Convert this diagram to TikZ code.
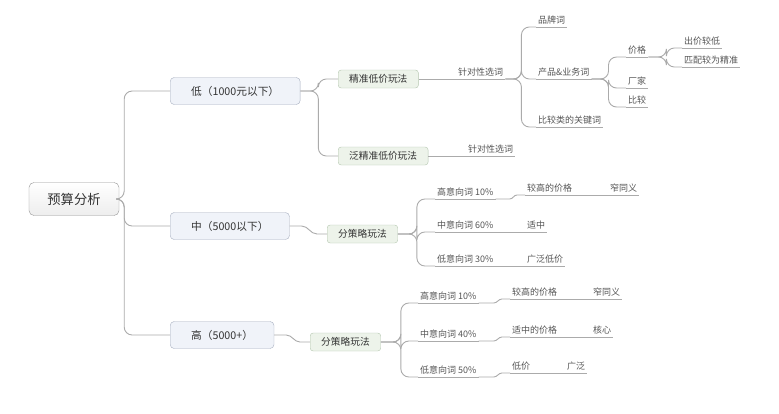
\documentclass[tikz,border=0pt]{standalone}
\usepackage{fontspec}
\setmainfont{Noto Sans CJK SC}
\definecolor{linkgray}{HTML}{ABABAB}
\definecolor{rootedge}{HTML}{969696}
\definecolor{branchfill}{HTML}{F0F3F9}
\definecolor{branchedge}{HTML}{A7AFC0}
\definecolor{playfill}{HTML}{EDF3EA}
\definecolor{playedge}{HTML}{B5C7B0}
\definecolor{boxtext}{HTML}{333333}
\definecolor{leaftext}{HTML}{555555}

\begin{document}
\begin{tikzpicture}[
			x=1pt,
			y=-1pt,
			rootbox/.style={draw=rootedge, rounded corners=5pt, top color=white, bottom color=black!7, text=boxtext, font=\fontsize{13.3}{15}\selectfont, minimum width=90pt, minimum height=33pt, inner sep=0pt},
			branchbox/.style={draw=branchedge, fill=branchfill, rounded corners=4pt, text=boxtext, font=\fontsize{10.7}{12}\selectfont, anchor=west, minimum height=27pt, inner xsep=21pt, inner ysep=0pt},
			playbox/.style={draw=playedge, fill=playfill, rounded corners=3pt, text=boxtext, font=\fontsize{9.7}{11}\selectfont, anchor=west, minimum height=18pt, inner xsep=11pt, inner ysep=0pt},
			leaf/.style={text=leaftext, font=\fontsize{9}{10}\selectfont, anchor=south west, inner xsep=2pt, inner ysep=2pt, text height=7.5pt, text depth=1.5pt},
			link/.style={draw=linkgray, line width=0.9pt, rounded corners=8pt},
			wave/.style={draw=linkgray, line width=0.9pt, sharp corners}
		]
		\fill[white] (0,0) rectangle (779,413);

		\node[rootbox] (budget) at (74,199) {预算分析};

		\node[branchbox] (low) at (170,91) {低（1000元以下）};
		\node[branchbox] (mid) at (170,226) {中（5000以下）};
		\node[branchbox] (high) at (170,335) {高（5000+）};

		\node[playbox] (precise) at (338,79) {精准低价玩法};
		\node[playbox] (broad) at (338,156) {泛精准低价玩法};
		\node[playbox] (midplay) at (327,234) {分策略玩法};
		\node[playbox] (highplay) at (310,342) {分策略玩法};

		\node[leaf] (sela) at (456,79) {针对性选词};
		\node[leaf] (brand) at (536,27) {品牌词};
		\node[leaf] (product) at (536,79) {产品\&业务词};
		\node[leaf] (compare) at (536,127) {比较类的关键词};
		\node[leaf] (price) at (626,57) {价格};
		\node[leaf] (maker) at (626,88) {厂家};
		\node[leaf] (cmp) at (626,107) {比较};
		\node[leaf] (bid) at (682,48) {出价较低};
		\node[leaf] (match) at (682,67) {匹配较为精准};
		\node[leaf] (selb) at (466,156) {针对性选词};

		\node[leaf] (midhi) at (435,199) {高意向词 10\%};
		\node[leaf] (midmd) at (435,232) {中意向词 60\%};
		\node[leaf] (midlo) at (435,266) {低意向词 30\%};
		\node[leaf] (midhiprice) at (525,195) {较高的价格};
		\node[leaf] (midhisyn) at (608,195) {窄同义};
		\node[leaf] (midmdprice) at (525,232) {适中};
		\node[leaf] (midloprice) at (525,266) {广泛低价};

		\node[leaf] (highhi) at (418,303) {高意向词 10\%};
		\node[leaf] (highmd) at (418,341) {中意向词 40\%};
		\node[leaf] (highlo) at (418,377) {低意向词 50\%};
		\node[leaf] (highhiprice) at (510,299) {较高的价格};
		\node[leaf] (highhisyn) at (591,299) {窄同义};
		\node[leaf] (highmdprice) at (510,337) {适中的价格};
		\node[leaf] (highmdcore) at (591,337) {核心};
		\node[leaf] (highloprice) at (510,373) {低价};
		\node[leaf] (highlowide) at (565,373) {广泛};

		\foreach \n in {sela,brand,product,compare,price,maker,cmp,bid,match,selb,
				midhi,midmd,midlo,midhiprice,midhisyn,midmdprice,midloprice,
				highhi,highmd,highlo,highhiprice,highhisyn,highmdprice,highmdcore,highloprice,highlowide}
			\draw[link] (\n.south west) -- (\n.south east);

		\foreach \n in {low,mid,high}
			\draw[link] (budget.east) -- ++(5,0) |- (\n.west);
		\foreach \n in {precise,broad}
			\draw[link] (low.east) -- ++(18,0) |- (\n.west);
		\draw[wave] (mid.east) -- ++(12,0) to[out=0,in=180] ([xshift=-10pt]midplay.west) -- (midplay.west);
		\draw[wave] (high.east) -- ++(12,0) to[out=0,in=180] ([xshift=-10pt]highplay.west) -- (highplay.west);

		\draw[link] (precise.east) -- (sela.south west);
		\draw[link] (broad.east) -- (selb.south west);
		\foreach \n in {brand,product,compare}
			\draw[link] (sela.south east) -- ++(16,0) |- (\n.south west);
		\foreach \n in {price,maker,cmp}
			\draw[link] (product.south east) -- ++(17,0) |- (\n.south west);
		\foreach \n in {bid,match}
			\draw[link] (price.south east) -- ++(18,0) |- (\n.south west);

		\foreach \n in {midhi,midmd,midlo}
			\draw[link] (midplay.east) -- ++(19,0) |- (\n.south west);
		\draw[wave] (midhi.south east) -- ++(14,0) to[out=0,in=180] ([xshift=-8pt]midhiprice.south west) -- (midhiprice.south west);
		\draw[link] (midhiprice.south east) -- (midhisyn.south west);
		\draw[link] (midmd.south east) -- (midmdprice.south west);
		\draw[link] (midlo.south east) -- (midloprice.south west);

		\foreach \n in {highhi,highmd,highlo}
			\draw[link] (highplay.east) -- ++(20,0) |- (\n.south west);
		\draw[wave] (highhi.south east) -- ++(15,0) to[out=0,in=180] ([xshift=-8pt]highhiprice.south west) -- (highhiprice.south west);
		\draw[wave] (highmd.south east) -- ++(15,0) to[out=0,in=180] ([xshift=-8pt]highmdprice.south west) -- (highmdprice.south west);
		\draw[wave] (highlo.south east) -- ++(15,0) to[out=0,in=180] ([xshift=-8pt]highloprice.south west) -- (highloprice.south west);
		\draw[link] (highhiprice.south east) -- (highhisyn.south west);
		\draw[link] (highmdprice.south east) -- (highmdcore.south west);
		\draw[link] (highloprice.south east) -- (highlowide.south west);
	\end{tikzpicture}
\end{document}
